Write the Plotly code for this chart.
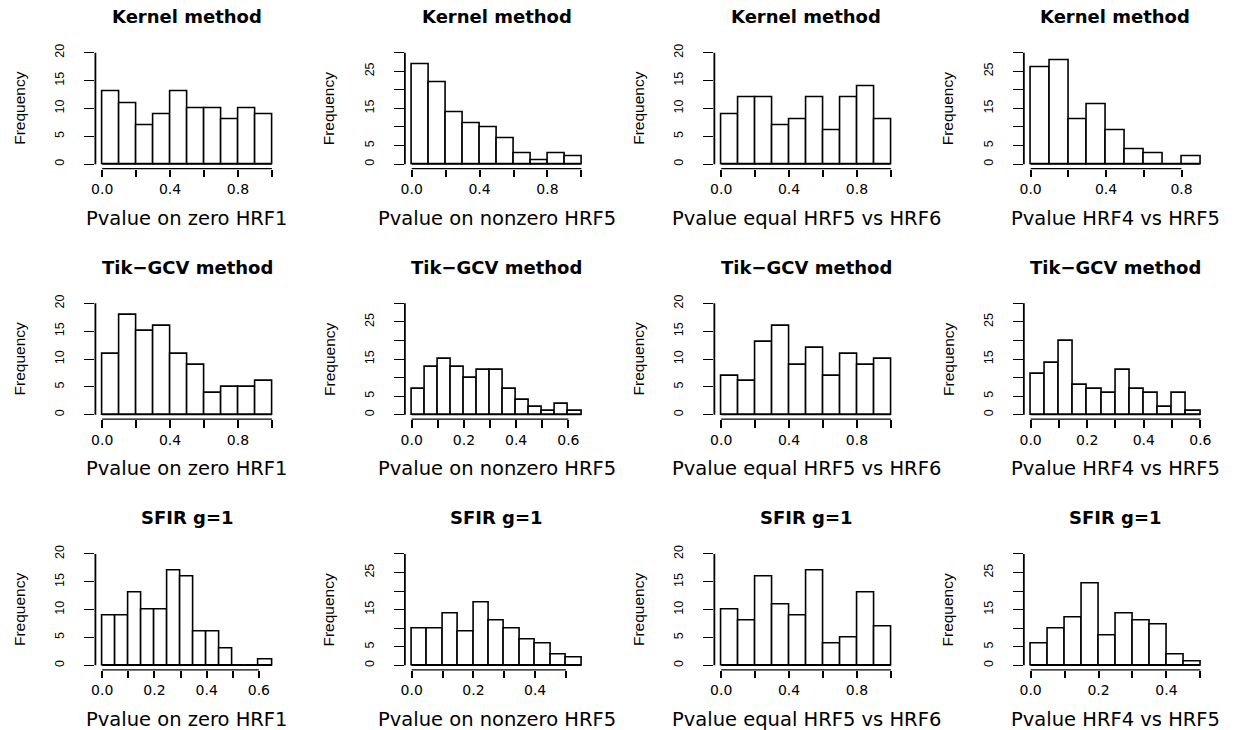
import plotly.graph_objects as go

# ---------------- data ----------------
row_titles = ["Kernel method", "Tik\u2212GCV method", "SFIR g=1"]
col_xlabels = ["Pvalue on zero HRF1", "Pvalue on nonzero HRF5",
               "Pvalue equal HRF5 vs HRF6", "Pvalue HRF4 vs HRF5"]

kernel_zero_hrf1 = [13, 11, 7, 9, 13, 10, 10, 8, 10, 9]
kernel_nonzero_hrf5 = [27, 22, 14, 11, 10, 7, 3, 1, 3, 2]
kernel_equal_hrf5_hrf6 = [9, 12, 12, 7, 8, 12, 6, 12, 14, 8]
kernel_hrf4_hrf5 = [26, 28, 12, 16, 9, 4, 3, 0, 2]

tik_zero_hrf1 = [11, 18, 15, 16, 11, 9, 4, 5, 5, 6]
tik_nonzero_hrf5 = [7, 13, 15, 13, 10, 12, 12, 7, 4, 2, 1, 3, 1]
tik_equal_hrf5_hrf6 = [7, 6, 13, 16, 9, 12, 7, 11, 9, 10]
tik_hrf4_hrf5 = [11, 14, 20, 8, 7, 6, 12, 7, 6, 2, 6, 1]

sfir_zero_hrf1 = [9, 9, 13, 10, 10, 17, 16, 6, 6, 3, 0, 0, 1]
sfir_nonzero_hrf5 = [10, 10, 14, 9, 17, 12, 10, 7, 6, 3, 2]
sfir_equal_hrf5_hrf6 = [10, 8, 16, 11, 9, 17, 4, 5, 13, 7]
sfir_hrf4_hrf5 = [6, 10, 13, 22, 8, 14, 12, 11, 3, 1]

bin_widths = [[0.1, 0.1, 0.1, 0.1],
              [0.1, 0.05, 0.1, 0.05],
              [0.05, 0.05, 0.1, 0.05]]

col_ymax = [20, 30, 20, 30]
y_ticks_20 = [0, 5, 10, 15, 20]
y_labels_20 = ["0", "5", "10", "15", "20"]
y_ticks_30 = [0, 5, 10, 15, 20, 25, 30]
y_labels_30 = ["0", "5", "", "15", "", "25", ""]

x_tick_max = [[1.0, 1.0, 1.0, 0.8],
              [1.0, 0.6, 1.0, 0.6],
              [0.6, 0.5, 1.0, 0.5]]
x_tick_step = [[0.2, 0.2, 0.2, 0.2],
               [0.2, 0.1, 0.2, 0.1],
               [0.1, 0.1, 0.2, 0.1]]

counts_grid = [
    [kernel_zero_hrf1, kernel_nonzero_hrf5, kernel_equal_hrf5_hrf6, kernel_hrf4_hrf5],
    [tik_zero_hrf1, tik_nonzero_hrf5, tik_equal_hrf5_hrf6, tik_hrf4_hrf5],
    [sfir_zero_hrf1, sfir_nonzero_hrf5, sfir_equal_hrf5_hrf6, sfir_hrf4_hrf5],
]

# ---------------- layout geometry (pixels) ----------------
FIG_W, FIG_H = 1234, 730
col_left = [92, 403.5, 715, 1026.5]
panel_w = 184.5
row_top = [44.5, 296.5, 548.5]
panel_h = 121

TICK_FONT = dict(family="DejaVu Sans", size=14, color="black")
YTICK_FONT = dict(family="Liberation Sans", size=12.5, color="black")
LABEL_FONT = dict(family="DejaVu Sans", size=19.5, color="black")
YLABEL_FONT = dict(family="Liberation Sans", size=15.5, color="black")
TITLE_FONT = dict(family="DejaVu Sans", size=18, color="black")


def px_x(v):
    return v / FIG_W


def px_y(v):
    return 1 - v / FIG_H


fig = go.Figure()
layout = {}
shapes = []
annotations = []

idx = 0
for r in range(3):
    for c in range(4):
        idx += 1
        sfx = "" if idx == 1 else str(idx)
        xa, ya = "x" + sfx, "y" + sfx
        counts = counts_grid[r][c]
        bw = bin_widths[r][c]
        n = len(counts)
        last_break = round(n * bw, 6)
        centers = [round((k + 0.5) * bw, 6) for k in range(n)]
        ymax = col_ymax[c]

        # baseline of the histogram (R draws zero-height rectangles)
        fig.add_trace(go.Scatter(x=[0, last_break], y=[0, 0], mode="lines",
                                 line=dict(color="black", width=1.2),
                                 hoverinfo="skip", showlegend=False,
                                 xaxis=xa, yaxis=ya))
        fig.add_trace(go.Bar(x=centers, y=counts, width=bw,
                             marker=dict(color="white",
                                         line=dict(color="black", width=1.6)),
                             showlegend=False, xaxis=xa, yaxis=ya))

        # x ticks
        step = x_tick_step[r][c]
        tmax = x_tick_max[r][c]
        nt = int(round(tmax / step)) + 1
        xt = [round(k * step, 6) for k in range(nt)]
        xtt = [("%.1f" % v) if k % 2 == 0 else "" for k, v in enumerate(xt)]

        if ymax == 20:
            yt, ytt = y_ticks_20, y_labels_20
        else:
            yt, ytt = y_ticks_30, y_labels_30

        x0p = col_left[c]
        y0p = row_top[r]
        ext = 0.04 * last_break
        layout["xaxis" + sfx] = dict(
            domain=[px_x(x0p), px_x(x0p + panel_w)],
            range=[-ext, last_break + ext], anchor=ya,
            tickvals=xt, ticktext=xtt, ticks="outside", ticklen=7.5,
            tickwidth=1.8, tickcolor="black", showline=False,
            showgrid=False, zeroline=False, tickfont=TICK_FONT,
            ticklabelstandoff=0, fixedrange=True)
        layout["yaxis" + sfx] = dict(
            domain=[px_y(y0p + panel_h), px_y(y0p)],
            range=[-0.04 * ymax, 1.04 * ymax], anchor=xa,
            tickvals=yt, ticktext=ytt, tickangle=-90, ticks="outside",
            ticklen=10, tickwidth=1.3, tickcolor="black", showline=False,
            showgrid=False, zeroline=False, tickfont=YTICK_FONT,
            ticklabelstandoff=15, fixedrange=True)

        # axis lines spanning first to last tick, as R does
        shapes.append(dict(type="line", xref=xa, yref=ya + " domain",
                           x0=xt[0], x1=xt[-1], y0=0, y1=0,
                           line=dict(color="black", width=1.3)))
        shapes.append(dict(type="line", xref=xa + " domain", yref=ya,
                           x0=0, x1=0, y0=yt[0], y1=yt[-1],
                           line=dict(color="black", width=1.8)))

        cx = x0p + panel_w / 2
        annotations.append(dict(text="<b>%s</b>" % row_titles[r], xref="paper",
                                yref="paper", x=px_x(cx), y=px_y(y0p - 32),
                                xanchor="center", yanchor="middle",
                                showarrow=False, font=TITLE_FONT))
        annotations.append(dict(text=col_xlabels[c], xref="paper", yref="paper",
                                x=px_x(cx), y=px_y(y0p + panel_h + 50),
                                xanchor="center", yanchor="middle",
                                showarrow=False, font=LABEL_FONT))
        annotations.append(dict(text="Frequency", xref="paper", yref="paper",
                                x=px_x(x0p - 76.5), y=px_y(y0p + panel_h / 2),
                                xanchor="center", yanchor="middle",
                                textangle=-90, showarrow=False,
                                font=YLABEL_FONT))

fig.update_layout(
    width=FIG_W, height=FIG_H,
    margin=dict(l=0, r=0, t=0, b=0),
    paper_bgcolor="white", plot_bgcolor="white",
    bargap=0, showlegend=False,
    shapes=shapes, annotations=annotations,
    **layout)

fig.write_html("out.html", config={"displayModeBar": False},
               post_script="document.body.style.margin='0';"
                           "document.body.style.overflow='hidden';")
